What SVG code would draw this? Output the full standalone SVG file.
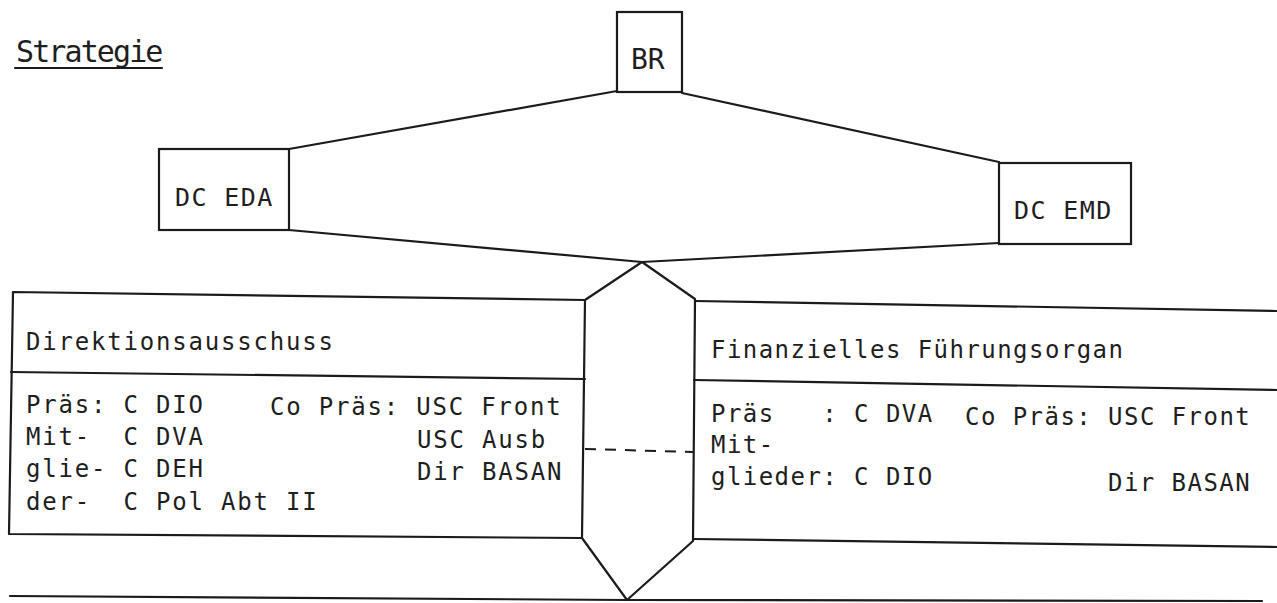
<svg xmlns="http://www.w3.org/2000/svg" width="1277" height="603" viewBox="0 0 1277 603">
<style>
.ln{fill:none;stroke:#1b1b1b;stroke-width:2.2;stroke-linejoin:round;stroke-linecap:round}
.box{fill:#fff;stroke:#1b1b1b;stroke-width:2.2}
.t{font-family:"DejaVu Sans Mono","Liberation Mono",monospace;fill:#1e1e1e;font-size:24px;letter-spacing:1.8px}
.tr{letter-spacing:1.45px}
.dash{fill:none;stroke:#1b1b1b;stroke-width:2;stroke-dasharray:11 9}
</style>
<rect width="1277" height="603" fill="#fff"/>
<g id="title">
<text class="t" x="16" y="62" style="font-size:30px;letter-spacing:-1.9px">Strategie</text>
<path class="ln" d="M15,68 L162,68"/>
</g>
<g id="connectors">
<path class="ln" d="M617,91 L289,149"/>
<path class="ln" d="M682,93 L999,162"/>
<path class="ln" d="M289,230 L642,262 L999,243"/>
<path class="ln" d="M642,262 L695,299 L693,541 L627,600 L582,538 L585,300 Z"/>
<path class="dash" d="M585,449 L693,452"/>
<path class="ln" d="M10,596 L627,600 L1262,601"/>
</g>
<g id="node-br">
<rect class="box" x="617" y="12" width="65" height="80"/>
<text class="t" x="631" y="69" style="font-size:28px;letter-spacing:0px">BR</text>
</g>
<g id="node-dc-eda">
<rect class="box" x="159" y="149" width="130" height="81"/>
<text class="t" x="175" y="206" style="font-size:25px;letter-spacing:1.4px" xml:space="preserve">DC EDA</text>
</g>
<g id="node-dc-emd">
<rect class="box" x="999" y="163" width="132" height="81"/>
<text class="t" x="1014" y="219" style="font-size:25px;letter-spacing:1.4px" xml:space="preserve">DC EMD</text>
</g>
<g id="node-direktionsausschuss">
<path class="ln" d="M585,300 L13,292 L9,534 L582,538"/>
<path class="ln" d="M11,372 L585,379"/>
<text class="t" x="26" y="350">Direktionsausschuss</text>
<text class="t" x="26" y="413" xml:space="preserve">Präs: C DIO</text>
<text class="t" x="270" y="415" xml:space="preserve">Co Präs: USC Front</text>
<text class="t" x="26" y="445" xml:space="preserve">Mit-  C DVA</text>
<text class="t" x="417" y="448" xml:space="preserve">USC Ausb</text>
<text class="t" x="26" y="477" xml:space="preserve">glie- C DEH</text>
<text class="t" x="417" y="480" xml:space="preserve">Dir BASAN</text>
<text class="t" x="26" y="510" xml:space="preserve">der-  C Pol Abt II</text>
</g>
<g id="node-fuehrungsorgan">
<path class="ln" d="M695,301 L1277,311"/>
<path class="ln" d="M694,380 L1277,390"/>
<path class="ln" d="M693,539 L1277,547"/>
<text class="t tr" x="711" y="358" xml:space="preserve">Finanzielles Führungsorgan</text>
<text class="t tr" x="711" y="422" xml:space="preserve">Präs   : C DVA</text>
<text class="t tr" x="965" y="425" xml:space="preserve">Co Präs: USC Front</text>
<text class="t tr" x="711" y="453" xml:space="preserve">Mit-</text>
<text class="t tr" x="711" y="485" xml:space="preserve">glieder: C DIO</text>
<text class="t tr" x="1108" y="491" xml:space="preserve">Dir BASAN</text>
</g>
</svg>
